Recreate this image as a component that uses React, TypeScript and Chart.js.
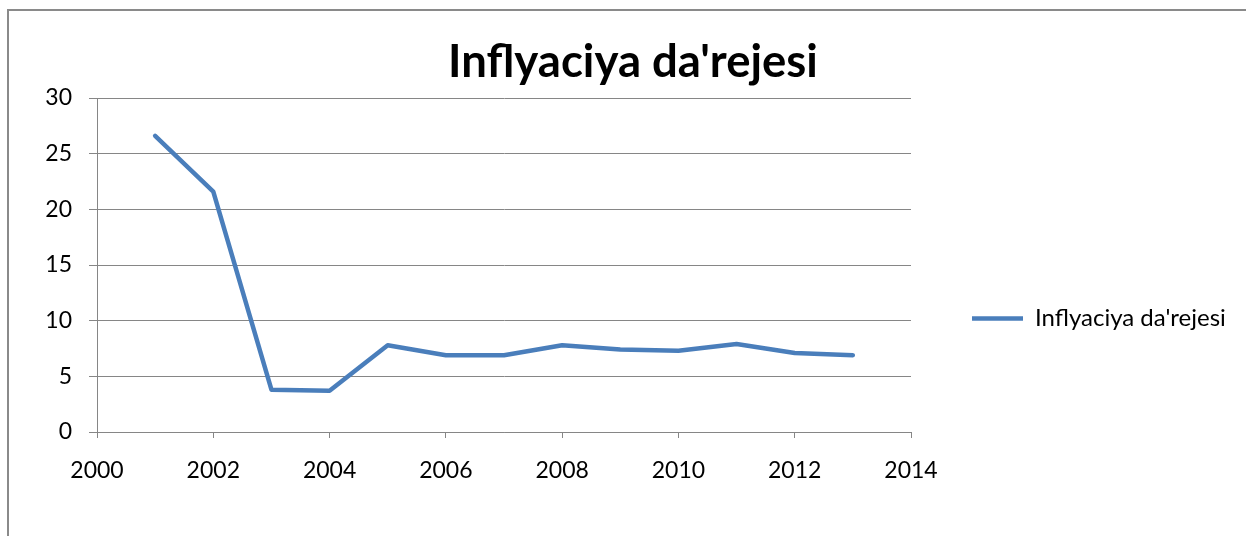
import React, { useEffect, useRef } from "react";
import { Chart, registerables } from "chart.js";

Chart.register(...registerables);

// ---- data ----
const TITLE = "Inflyaciya da'rejesi";
const SERIES_NAME = "Inflyaciya da'rejesi";
const YEARS = [2001, 2002, 2003, 2004, 2005, 2006, 2007, 2008, 2009, 2010, 2011, 2012, 2013];
const INFLATION = [26.6, 21.6, 3.8, 3.7, 7.8, 6.9, 6.9, 7.8, 7.4, 7.3, 7.9, 7.1, 6.9];
const X_TICKS = [2000, 2002, 2004, 2006, 2008, 2010, 2012, 2014];
const Y_TICKS = [0, 5, 10, 15, 20, 25, 30];

// ---- style ----
const W = 1246;
const H = 536;
const FONT = "Lato";
const LINE_COLOR = "#4A7EBB";
const GRID_COLOR = "#868686";
const TEXT_COLOR = "#000000";
const TICK_SIZE = 23;
const LEGEND_SIZE = 24;
const TITLE_SIZE = 45.5;

export default function App() {
  const ref = useRef<HTMLCanvasElement | null>(null);

  useEffect(() => {
    const canvas = ref.current;
    if (!canvas) return;

    // layout targets
    const areaLeft = 97;
    const areaRight = 911;
    const areaTop = 98;
    const areaBottom = 432;
    const titleCenterX = 633;
    const legendPad = 61;
    const legendBox = 51;

    const mctx = document.createElement("canvas").getContext("2d")!;
    mctx.font = `${LEGEND_SIZE}px ${FONT}`;
    const tw = mctx.measureText(SERIES_NAME).width;
    const legendWidth = legendPad + legendBox + LEGEND_SIZE / 2 + tw + 10;
    const padRight = Math.max(0, W - areaRight - legendWidth);
    const padLeft = Math.max(0, 2 * titleCenterX - W + padRight);

    const titleLH = TITLE_SIZE * 1.2;
    const titlePadTop = 62 - titleLH / 2;
    const titlePadBottom = areaTop - titlePadTop - titleLH;

    const chart = new Chart(canvas, {
      type: "line",
      data: {
        datasets: [
          {
            label: SERIES_NAME,
            data: YEARS.map((yr, i) => ({ x: yr, y: INFLATION[i] })),
            borderColor: LINE_COLOR,
            backgroundColor: LINE_COLOR,
            borderWidth: 4.5,
            pointRadius: 0,
            pointHoverRadius: 0,
            borderCapStyle: "round",
            borderJoinStyle: "round",
            tension: 0,
            fill: false,
          },
        ],
      },
      options: {
        responsive: false,
        animation: false,
        devicePixelRatio: 1,
        layout: { padding: { left: padLeft, right: padRight, top: 0, bottom: 0 } },
        scales: {
          x: {
            type: "linear",
            min: X_TICKS[0],
            max: X_TICKS[X_TICKS.length - 1],
            afterBuildTicks: (s: any) => {
              s.ticks = X_TICKS.map((v) => ({ value: v }));
            },
            afterFit: (s: any) => {
              s.height = H - areaBottom;
            },
            ticks: {
              callback: (v: any) => String(v),
              font: { family: FONT, size: TICK_SIZE },
              color: TEXT_COLOR,
              padding: 19,
              maxRotation: 0,
              autoSkip: false,
            },
            grid: { drawOnChartArea: false, drawTicks: true, tickLength: 6, color: GRID_COLOR, lineWidth: 1 },
            border: { display: true, color: GRID_COLOR, width: 1 },
          },
          y: {
            type: "linear",
            min: Y_TICKS[0],
            max: Y_TICKS[Y_TICKS.length - 1],
            afterBuildTicks: (s: any) => {
              s.ticks = Y_TICKS.map((v) => ({ value: v }));
            },
            afterFit: (s: any) => {
              s.width = areaLeft - padLeft;
            },
            ticks: {
              callback: (v: any) => String(v),
              font: { family: FONT, size: TICK_SIZE },
              color: TEXT_COLOR,
              padding: 17,
            },
            grid: { drawTicks: true, tickLength: 8, color: GRID_COLOR, lineWidth: 1 },
            border: { display: true, color: GRID_COLOR, width: 1 },
          },
        },
        plugins: {
          tooltip: { enabled: false },
          title: {
            display: true,
            text: TITLE,
            color: TEXT_COLOR,
            font: { family: FONT, size: TITLE_SIZE, weight: "bold", lineHeight: 1.2 },
            padding: { top: titlePadTop, bottom: titlePadBottom },
          },
          legend: {
            display: true,
            position: "right",
            align: "center",
            maxWidth: legendWidth + 2,
            title: {
              display: true,
              text: "",
              font: { size: 10, lineHeight: 1 },
              padding: { top: 91, bottom: 0 },
            },
            labels: {
              usePointStyle: true,
              pointStyle: "line",
              pointStyleWidth: legendBox,
              padding: legendPad,
              color: TEXT_COLOR,
              font: { family: FONT, size: LEGEND_SIZE },
            },
          },
        },
      },
    });

    return () => {
      chart.destroy();
    };
  }, []);

  return (
    <div style={{ position: "fixed", left: 0, top: 0, width: W, height: H, background: "#ffffff", overflow: "hidden" }}>
      <div
        style={{
          position: "absolute",
          left: 7,
          top: 9,
          width: W + 40,
          height: H + 40,
          borderTop: "2px solid #8a8a8a",
          borderLeft: "2px solid #8a8a8a",
          boxSizing: "border-box",
        }}
      />
      <canvas ref={ref} width={W} height={H} style={{ position: "absolute", left: 0, top: 0, width: W, height: H }} />
    </div>
  );
}
